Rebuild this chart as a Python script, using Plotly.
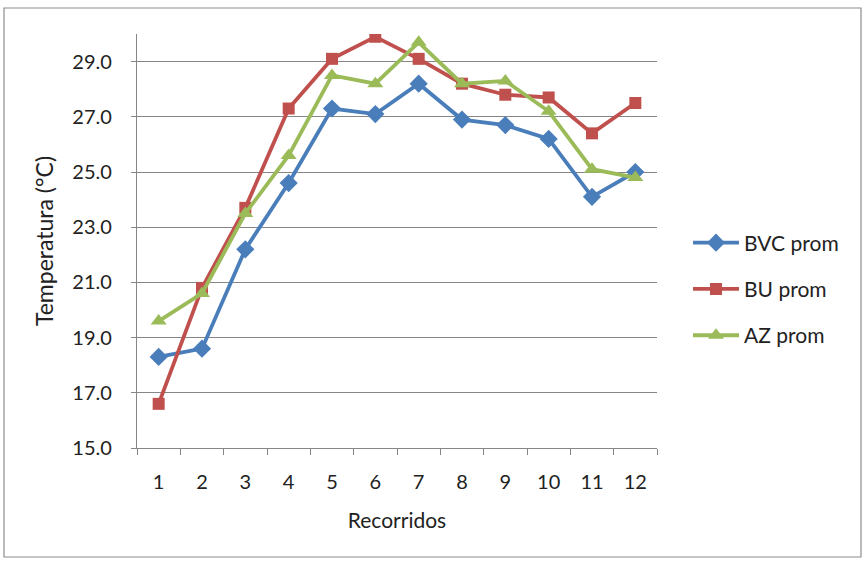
import plotly.graph_objects as go

recorridos = ["1", "2", "3", "4", "5", "6", "7", "8", "9", "10", "11", "12"]
bvc_prom = [18.3, 18.6, 22.2, 24.6, 27.3, 27.1, 28.2, 26.9, 26.7, 26.2, 24.1, 25.0]
bu_prom = [16.6, 20.8, 23.7, 27.3, 29.1, 29.9, 29.1, 28.2, 27.8, 27.7, 26.4, 27.5]
az_prom = [19.6, 20.6, 23.5, 25.6, 28.5, 28.2, 29.7, 28.2, 28.3, 27.2, 25.1, 24.8]
y_ticks = [15, 17, 19, 21, 23, 25, 27, 29]

series = [
    ("BVC prom", bvc_prom, "#4A7EBB", "diamond", 14),
    ("BU prom", bu_prom, "#C0504D", "square", 12),
    ("AZ prom", az_prom, "#9BBB59", "triangle-up", 14),
]

fig = go.Figure()
for name, vals, color, sym, size in series:
    fig.add_trace(go.Scatter(
        x=recorridos, y=vals, name=name, mode="lines+markers",
        line=dict(color=color, width=3.8),
        marker=dict(symbol=sym, size=size, color=color),
        legendgroup=name,
    ))

W, H = 864, 562
L, R, T, B = 137, 207, 34, 114
pw, ph = W - L - R, H - T - B

def px_x(px):
    return (px - L) / pw

def px_y(py):
    return (H - B - py) / ph

fig.add_shape(type="rect", xref="paper", yref="paper",
              x0=px_x(4), x1=px_x(861), y0=px_y(557), y1=px_y(8),
              line=dict(color="#8c8c8c", width=1.2), layer="below")

font_family = "Lato, 'Liberation Sans', sans-serif"

fig.update_layout(
    width=W, height=H,
    margin=dict(l=L, r=R, t=T, b=B),
    paper_bgcolor="white", plot_bgcolor="white",
    font=dict(family=font_family, size=20, color="#222222"),
    showlegend=True,
    legend=dict(x=px_x(688), xanchor="left", y=px_y(289), yanchor="middle",
                font=dict(size=21, color="#222222"), tracegroupgap=16,
                itemwidth=46, bgcolor="rgba(0,0,0,0)"),
    xaxis=dict(
        type="category", tickson="boundaries", ticks="outside", ticklen=6,
        tickcolor="#868686", showline=True, linecolor="#868686", linewidth=1.3,
        showgrid=False, range=[-0.5, 11.5],
        tickfont=dict(size=20), ticklabelstandoff=16,
        title=dict(text="Recorridos", font=dict(size=21), standoff=21),
    ),
    yaxis=dict(
        range=[15, 30], tickvals=y_ticks, ticktext=[f"{v:.1f}" for v in y_ticks],
        ticks="outside", ticklen=5, tickcolor="#868686",
        showline=True, linecolor="#868686", linewidth=1.3,
        showgrid=True, gridcolor="#868686", gridwidth=1.3,
        zeroline=False, tickfont=dict(size=20), ticklabelstandoff=15,
        title=dict(text="Temperatura (°C)", font=dict(size=23), standoff=12),
    ),
)

fig.write_html("out.html", config={"displayModeBar": False},
               post_script="document.body.style.margin='0';")
